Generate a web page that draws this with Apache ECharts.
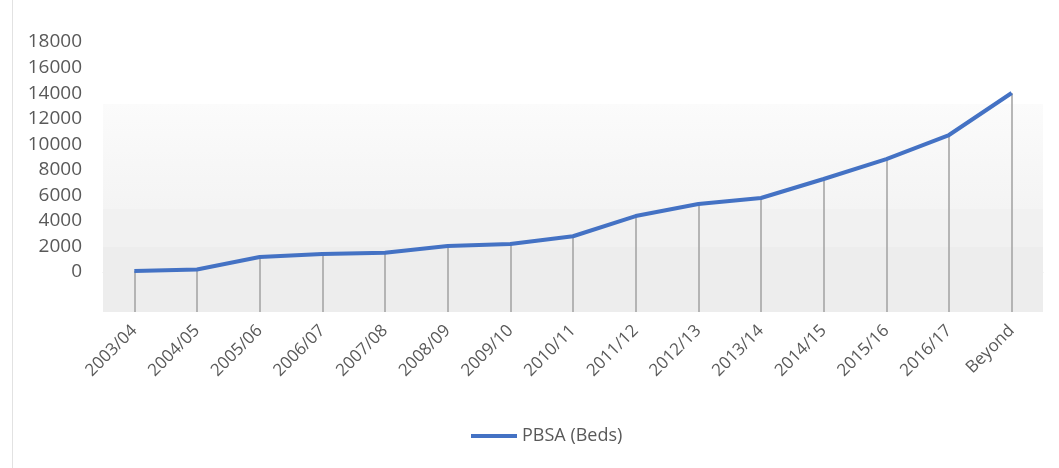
<!DOCTYPE html>
<html>
<head>
<meta charset="utf-8">
<script src="https://cdn.jsdelivr.net/npm/echarts@6/dist/echarts.min.js"></script>
<style>
html,body{margin:0;padding:0;background:#fff;}
#chart{width:1059px;height:468px;}
#edge{position:absolute;left:12px;top:0;width:0;height:468px;border-left:1.5px solid #e2e2e2;}
</style>
</head>
<body>
<div id="chart"></div>
<div id="edge"></div>
<script>
const categories = ['2003/04','2004/05','2005/06','2006/07','2007/08','2008/09','2009/10','2010/11','2011/12','2012/13','2013/14','2014/15','2015/16','2016/17','Beyond'];
const pbsaBeds = [80, 200, 1170, 1410, 1500, 2030, 2200, 2800, 4380, 5320, 5790, 7280, 8840, 10720, 14010];
const yTickLabels = [0, 2000, 4000, 6000, 8000, 10000, 12000, 14000, 16000, 18000];
const seriesName = 'PBSA (Beds)';

const yMin = -3130, yMax = 18000;
const bands = [
  [yMin, 1960, '#ededed'],
  [1960, 4930, '#f1f1f1'],
  [4930, 13150, {type:'linear',x:0,y:0,x2:0,y2:1,colorStops:[{offset:0,color:'#fbfbfb'},{offset:1,color:'#f4f4f4'}]}]
];

const chart = echarts.init(document.getElementById('chart'), null, {renderer:'canvas'});
chart.setOption({
  animation: false,
  textStyle: {fontFamily: 'Open Sans'},
  grid: {left: 103, right: 16, top: 42, bottom: 156, containLabel: false},
  legend: {
    data: [seriesName], bottom: 18, left: 466,
    icon: 'rect', itemWidth: 46, itemHeight: 4, itemGap: 10,
    textStyle: {color: '#595959', fontSize: 18, fontFamily: 'Open Sans'}
  },
  xAxis: {
    type: 'category', data: categories, boundaryGap: true,
    axisLine: {show: true, lineStyle: {color: '#e4e4e4', width: 1}},
    axisTick: {show: false},
    axisLabel: {rotate: 45, color: '#595959', fontSize: 17, margin: 16, interval: 0, fontFamily: 'Open Sans'},
    splitLine: {show: false}
  },
  yAxis: {
    type: 'value', min: yMin, max: yMax,
    axisLine: {show: false}, axisTick: {show: false}, splitLine: {show: false},
    axisLabel: {customValues: yTickLabels, formatter: v => String(v), color: '#595959', fontSize: 19, margin: 21, fontFamily: 'Open Sans'}
  },
  series: [
    {
      name: 'helper', type: 'line', data: pbsaBeds, z: 1, silent: true,
      lineStyle: {opacity: 0}, showSymbol: false, symbol: 'none', legendHoverLink: false,
      markArea: {
        silent: true,
        data: bands.map(b => [{yAxis: b[0], itemStyle: {color: b[2]}}, {yAxis: b[1]}])
      },
      markLine: {
        silent: true, symbol: 'none', animation: false,
        label: {show: false},
        lineStyle: {color: '#a0a0a0', width: 1.5, type: 'solid'},
        data: pbsaBeds.map((v, i) => [{coord: [categories[i], v]}, {coord: [categories[i], yMin]}])
      }
    },
    {
      name: seriesName, type: 'line', data: pbsaBeds, z: 5,
      showSymbol: false, symbol: 'none',
      lineStyle: {color: '#4472C4', width: 4},
      itemStyle: {color: '#4472C4'}
    }
  ]
});
</script>
</body>
</html>
